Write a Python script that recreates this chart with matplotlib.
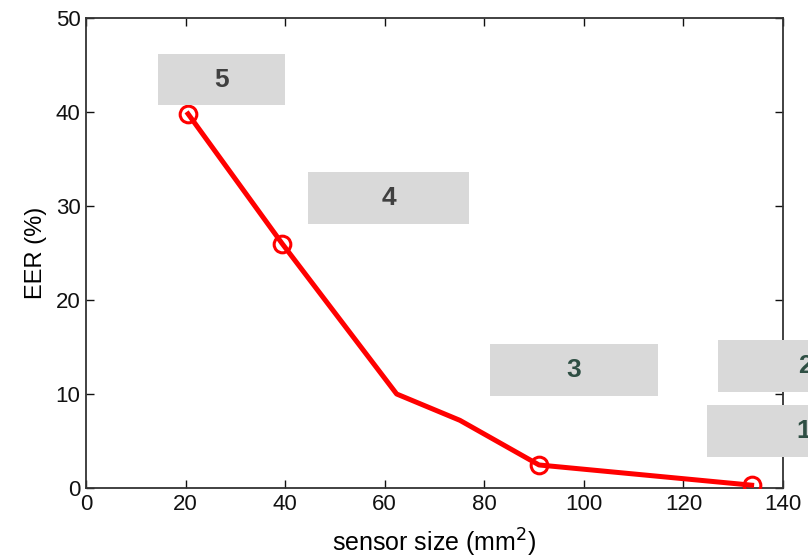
import matplotlib
matplotlib.use("Agg")
from matplotlib import pyplot as plt
from matplotlib.patches import Rectangle

plt.rcParams['font.family'] = ['Liberation Sans', 'DejaVu Sans']

# sensor size (mm^2) vs EER (%)
size = [20.5, 39.4, 62.4, 75.1, 91.0, 133.7]
eer = [39.8, 26.0, 10.0, 7.2, 2.45, 0.3]
marked = [0, 1, 4, 5]

# numbered grey boxes: label, x0, x1, y0, y1 (data units)
box_labels = ['5', '4', '3', '2', '1']
box_x0 = [14.5, 44.6, 81.1, 126.9, 124.7]
box_x1 = [40.0, 76.9, 114.9, 162.0, 163.5]
box_y0 = [40.7, 28.1, 9.8, 10.2, 3.3]
box_y1 = [46.2, 33.6, 15.3, 15.7, 8.8]
box_txt = ['#404040', '#404040', '#2f4f44', '#2f4f44', '#2f4f44']

fig = plt.figure(figsize=(8.08, 5.6), dpi=100)
ax = fig.add_axes([86 / 808, 72 / 560, 697 / 808, 470 / 560])

ax.plot(size, eer, color='#ff0000', lw=3.6, marker='o', markevery=marked,
        ms=12, mfc='none', mec='#ff0000', mew=2.2, zorder=3)

ax.set_xlim(0, 140)
ax.set_ylim(0, 50)
ax.set_xticks(range(0, 141, 20))
ax.set_yticks(range(0, 51, 10))
ax.tick_params(direction='in', length=6, width=1, top=True, right=True,
               labelsize=16, pad=4, colors='#111111')
for sp in ax.spines.values():
    sp.set_linewidth(1.3)
    sp.set_color('#333333')

ax.set_xlabel('sensor size (mm$^2$)', fontsize=18, labelpad=9)
ax.set_ylabel('EER (%)', fontsize=17, labelpad=6)

for lab, x0, x1, y0, y1, c in zip(box_labels, box_x0, box_x1, box_y0, box_y1, box_txt):
    ax.add_patch(Rectangle((x0, y0), x1 - x0, y1 - y0, facecolor='#d9d9d9',
                           edgecolor='none', clip_on=False, zorder=4))
    ax.text((x0 + x1) / 2, (y0 + y1) / 2, lab, ha='center', va='center',
            fontsize=19, fontweight='bold', color=c, clip_on=False, zorder=5)

fig.savefig('out.png', dpi=100)
